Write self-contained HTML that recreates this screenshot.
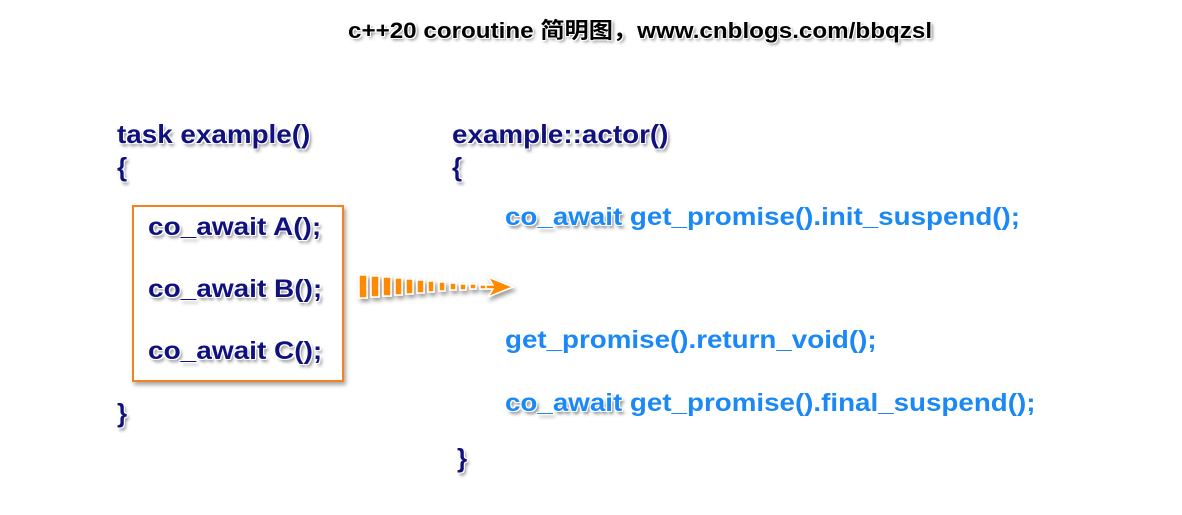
<!DOCTYPE html>
<html><head><meta charset="utf-8"><style>
html,body{margin:0;padding:0;background:#fff;}
body{width:1182px;height:515px;position:relative;overflow:hidden;font-family:"Liberation Sans","Noto Sans CJK SC",sans-serif;font-weight:bold;}
.t{position:absolute;white-space:nowrap;line-height:1;transform-origin:0 50%;}
.n{color:#10107e;font-size:26px;text-shadow:-1px -1px 0 #fff,1px -1px 0 #fff,-1px 1px 0 #fff,1px 1px 0 #fff,2px 3px 3px rgba(0,0,0,.45);}
.b{color:#1a88f5;font-size:25px;transform:scaleX(1.11);}
.ow{color:#1a88f5;text-shadow:-1px -1px 0 #fff,1px -1px 0 #fff,-1px 1px 0 #fff,1px 1px 0 #fff,2px 3px 3px rgba(0,0,0,.5);}
.title{color:#000;font-size:22px;transform:scaleX(1.1);text-shadow:-1px -1px 0 #fff,1px -1px 0 #fff,-1px 1px 0 #fff,1px 1px 0 #fff,2px 2px 3px rgba(0,0,0,.5);}
.box{position:absolute;left:132px;top:205px;width:208px;height:173px;border:2px solid #f58220;box-shadow:2px 3px 4px rgba(0,0,0,.35);}
</style></head><body>
<div class="t title" style="left:348px;top:20px;">c++20 coroutine 简明图，www.cnblogs.com/bbqzsl</div>

<div class="t n" style="left:117px;top:121px;transform:scaleX(1.07);">task example()</div>
<div class="t n" style="left:117px;top:154px;">{</div>
<div class="box"></div>
<div class="t n" style="left:148px;top:215px;font-size:25px;transform:scaleX(1.12);">co_await A();</div>
<div class="t n" style="left:148px;top:277px;font-size:25px;transform:scaleX(1.12);">co_await B();</div>
<div class="t n" style="left:148px;top:339px;font-size:25px;transform:scaleX(1.12);">co_await C();</div>
<div class="t n" style="left:117px;top:400px;">}</div>

<div class="t n" style="left:452px;top:121px;transform:scaleX(1.07);">example::actor()</div>
<div class="t n" style="left:452px;top:154px;">{</div>
<div class="t b" style="left:505px;top:205px;"><span class="ow">co_await</span> get_promise().init_suspend();</div>
<div class="t b" style="left:505px;top:328px;">get_promise().return_void();</div>
<div class="t b" style="left:505px;top:391px;"><span class="ow">co_await</span> get_promise().final_suspend();</div>
<div class="t n" style="left:457px;top:445px;">}</div>

<svg style="position:absolute;left:0;top:0" width="1182" height="515">
<defs><filter id="s" x="-10%" y="-30%" width="130%" height="170%"><feDropShadow dx="2" dy="3" stdDeviation="2" flood-opacity="0.4"/></filter></defs>
<g fill="#ff8a00" stroke="#fff" stroke-width="1.5" filter="url(#s)">
<rect x="359" y="275" width="8" height="23"/>
<rect x="371" y="276" width="8" height="21"/>
<rect x="383" y="277" width="8" height="19"/>
<rect x="395" y="278" width="7" height="17"/>
<rect x="406" y="279" width="7" height="15"/>
<rect x="417" y="280" width="7" height="13"/>
<rect x="428" y="281" width="6" height="11"/>
<rect x="439" y="282" width="6" height="9"/>
<rect x="450" y="283" width="6" height="7"/>
<rect x="460" y="284" width="6" height="6"/>
<rect x="470" y="284" width="6" height="5"/>
<rect x="480" y="285" width="6" height="4"/>
<polygon points="488,277 513,287 488,297 493,289 486,289 486,285 493,285"/>
</g>
</svg>
</body></html>
